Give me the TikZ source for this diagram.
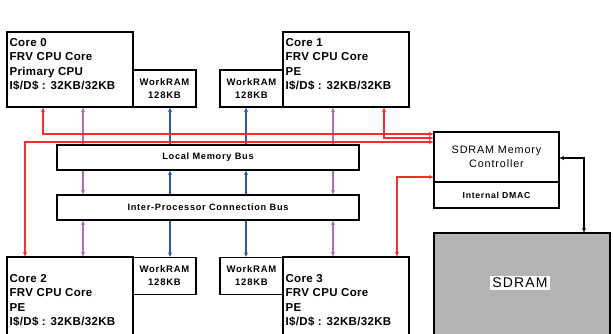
\documentclass[tikz,border=0pt]{standalone}
\usepackage{fontspec}
\setmainfont{Liberation Sans}
\newfontfamily\corefont[LetterSpace=3]{Liberation Sans}
\newfontfamily\labelfont[LetterSpace=8]{Liberation Sans}
\usetikzlibrary{arrows.meta, positioning, calc}
\pgfdeclarelayer{background}
\pgfsetlayers{background,main}

\definecolor{linkred}{RGB}{245,45,45}
\definecolor{linkpurple}{RGB}{175,105,195}
\definecolor{linkblue}{RGB}{40,90,180}
\definecolor{sdramgray}{RGB}{180,180,180}

\begin{document}
\begin{tikzpicture}[x=1pt, y=-1pt,
    >={Stealth[length=4.5pt,width=4pt]},
    box/.style={draw, line width=1.2pt, fill=white, inner sep=0pt},
    corebox/.style={box, minimum width=126pt},
    coretxt/.style={anchor=north west, align=left, inner sep=1pt,
        font=\corefont\bfseries\fontsize{11.5}{14.6}\selectfont},
    rambox/.style={box, minimum width=63pt, minimum height=37pt, align=center,
        font=\labelfont\bfseries\fontsize{9.5}{13}\selectfont},
    busbox/.style={box, minimum width=302pt, minimum height=25pt,
        font=\labelfont\bfseries\fontsize{9.2}{11}\selectfont},
    rline/.style={draw=linkred, line width=1.1pt, <->},
    pline/.style={draw=linkpurple, line width=1.1pt, <->},
    bline/.style={draw=linkblue, line width=1.1pt},
    memlink/.style={draw=black, line width=1.6pt, <->}]

    \useasboundingbox (0,0) rectangle (613,333);

    % Cores and WorkRAMs (top row)
    \node[corebox, minimum height=75pt] (core0) at (70,69.5) {};
    \node[coretxt] (core0txt) at ([shift={(2,5.5)}]core0.north west)
        {Core 0\\FRV CPU Core\\Primary CPU\\I\$/D\$ : 32KB/32KB};
    \node[rambox] (wram0) at (164.5,88.5) {WorkRAM\\128KB};
    \node[rambox] (wram1) at (251.5,88.5) {WorkRAM\\128KB};
    \node[corebox, minimum height=75pt] (core1) at (346,69.5) {};
    \node[coretxt] (core1txt) at ([shift={(2,5.5)}]core1.north west)
        {Core 1\\FRV CPU Core\\PE\\I\$/D\$ : 32KB/32KB};

    % Buses
    \node[busbox] (lmb) at (208,157.5) {Local Memory Bus};
    \node[busbox] (ipc) at (208,207.5) {Inter-Processor Connection Bus};

    % Cores and WorkRAMs (bottom row)
    \node[corebox, minimum height=90pt] (core2) at (70,302) {};
    \node[coretxt] (core2txt) at ([shift={(2,16.5)}]core2.north west)
        {Core 2\\FRV CPU Core\\PE\\I\$/D\$ : 32KB/32KB};
    \node[rambox] (wram2) at (164.5,276) {WorkRAM\\128KB};
    \node[rambox] (wram3) at (251.5,276) {WorkRAM\\128KB};
    \node[corebox, minimum height=90pt] (core3) at (346,302) {};
    \node[coretxt] (core3txt) at ([shift={(2,16.5)}]core3.north west)
        {Core 3\\FRV CPU Core\\PE\\I\$/D\$ : 32KB/32KB};

    % SDRAM controller and SDRAM
    \node[box, minimum width=125pt, minimum height=50pt, align=center,
        font=\labelfont\fontsize{10.8}{14}\selectfont] (ctrl) at (496.5,157)
        {SDRAM Memory\\Controller};
    \node[box, minimum width=125pt, minimum height=26pt,
        font=\labelfont\bfseries\fontsize{8.7}{10}\selectfont] (dmac) at (496.5,195)
        {Internal DMAC};
    \node[box, fill=sdramgray, minimum width=176pt, minimum height=112pt] (sdram) at (522,289) {};
    \node[fill=white, inner sep=2pt,
        font=\labelfont\fontsize{14}{16}\selectfont] (sdramtxt) at (520,283) {SDRAM};

    % Connection points
    \coordinate (r0) at (43,134);
    \coordinate (r1) at (384,138);
    \coordinate (r2) at (25,142);
    \coordinate (r3) at (397,177);
    \coordinate (p0) at (83,0);
    \coordinate (p1) at (333,0);
    \coordinate (b0) at (170,0);
    \coordinate (b1) at (246,0);
    \coordinate (m0) at (584,158);

    \begin{pgfonlayer}{background}
        % Bus links
        \draw[pline] (core0.south -| p0) -- (ipc.north -| p0);
        \draw[pline] (core1.south -| p1) -- (ipc.north -| p1);
        \draw[pline] (ipc.south -| p0) -- (core2.north -| p0);
        \draw[pline] (ipc.south -| p1) -- (core3.north -| p1);
        \draw[bline, ->] (lmb.north -| b0) -- (wram0.south -| b0);
        \draw[bline, ->] (lmb.north -| b1) -- (wram1.south -| b1);
        \draw[bline, <->] (lmb.south -| b0) -- (wram2.north -| b0);
        \draw[bline, <->] (lmb.south -| b1) -- (wram3.north -| b1);

        % Links to the controller
        \draw[rline] (core0.south -| r0) -- (r0) -- (r0 -| ctrl.west);
        \draw[rline] (core1.south -| r1) -- (r1) -- (r1 -| ctrl.west);
        \draw[rline] (core2.north -| r2) -- (r2) -- (r2 -| ctrl.west);
        \draw[rline] (core3.north -| r3) -- (r3) -- (r3 -| ctrl.west);
    \end{pgfonlayer}

    % Controller to SDRAM
    \draw[memlink] (ctrl.east |- m0) -- (m0) -- (sdram.north -| m0);
\end{tikzpicture}
\end{document}
